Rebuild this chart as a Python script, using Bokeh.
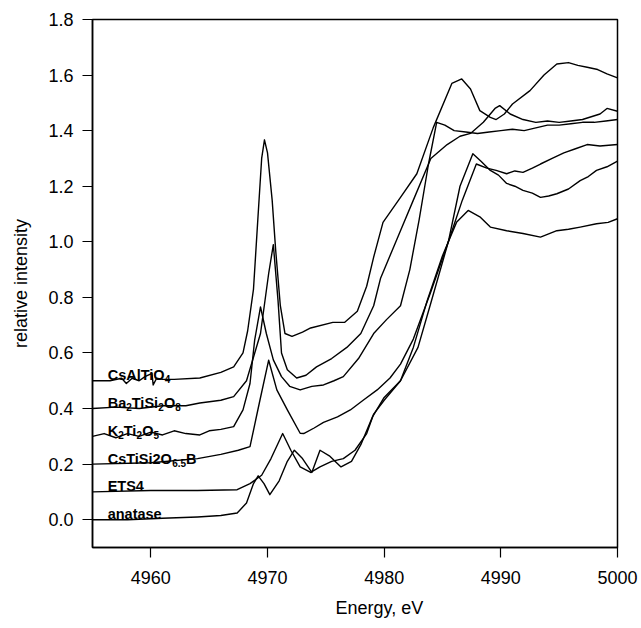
from bokeh.plotting import figure
from bokeh.models import Range1d, FixedTicker, Title, ColumnDataSource
from bokeh.core.properties import value
from bokeh.embed import file_html
from bokeh.resources import INLINE

# ---------------- data ----------------
x_ticks = [4960, 4970, 4980, 4990, 5000]
y_ticks = [0.0, 0.2, 0.4, 0.6, 0.8, 1.0, 1.2, 1.4, 1.6, 1.8]

anatase_x = [4955, 4958, 4961, 4964, 4966, 4967.4, 4968.2, 4968.8, 4969.2, 4969.7, 4970.2, 4971.0, 4971.7,
             4972.3, 4973.0, 4973.8, 4974.5, 4975.3, 4976.3, 4977.2, 4978.0, 4979.0, 4980.0, 4981.4, 4982.5,
             4983.7, 4985.0, 4986.2, 4987.2, 4988.2, 4989.1, 4990.5, 4991.9, 4993.4, 4994.8, 4995.8, 4996.8,
             4998.2, 4999.2, 5000]
anatase_y = [0.0, 0.0, 0.005, 0.01, 0.015, 0.024, 0.06, 0.13, 0.158, 0.13, 0.09, 0.14, 0.21,
             0.25, 0.22, 0.17, 0.25, 0.23, 0.19, 0.21, 0.27, 0.37, 0.44, 0.50, 0.62,
             0.79, 0.95, 1.07, 1.113, 1.09, 1.053, 1.04, 1.03, 1.017, 1.04, 1.045, 1.053,
             1.065, 1.07, 1.083]

ets4_x = [4955, 4960, 4964, 4967.4, 4968.5, 4969.5, 4970.3, 4971.3, 4972.0, 4972.8, 4973.7, 4974.5, 4975.5,
          4976.5, 4977.5, 4978.5, 4979.1, 4980, 4981.4, 4982.9, 4984, 4985.5, 4986.5, 4987.6, 4988.3, 4989.1,
          4989.8, 4990.5, 4991.2, 4991.9, 4992.7, 4993.4, 4994.1, 4994.8, 4995.8, 4996.8, 4997.5, 4998.2,
          4999.1, 5000]
ets4_y = [0.10, 0.105, 0.105, 0.108, 0.13, 0.16, 0.22, 0.31, 0.25, 0.19, 0.17, 0.19, 0.21,
          0.22, 0.25, 0.31, 0.38, 0.43, 0.50, 0.62, 0.78, 1.00, 1.20, 1.317, 1.29, 1.257,
          1.24, 1.21, 1.20, 1.185, 1.175, 1.16, 1.165, 1.173, 1.19, 1.22, 1.235, 1.257,
          1.27, 1.29]

cstisi_x = [4955, 4960, 4964, 4966, 4967.5, 4968.5, 4969.3, 4970.1, 4970.8, 4971.7, 4972.8, 4973.1, 4974,
            4974.8, 4976, 4977.1, 4978.2, 4979.4, 4980.5, 4981.4, 4982.5, 4984, 4985.5, 4986.7, 4987.9,
            4988.8, 4989.6, 4990.5, 4991.2, 4991.9, 4992.7, 4993.4, 4994.4, 4995.4, 4996.4, 4997.4,
            4998.5, 5000]
cstisi_y = [0.20, 0.205, 0.22, 0.235, 0.25, 0.263, 0.42, 0.574, 0.467, 0.395, 0.311, 0.31, 0.33,
            0.35, 0.37, 0.395, 0.43, 0.467, 0.51, 0.56, 0.65, 0.82, 1.00, 1.15, 1.28,
            1.265, 1.257, 1.245, 1.255, 1.25, 1.265, 1.28, 1.30, 1.32, 1.335, 1.35,
            1.345, 1.35]

k2ti2o5_x = [4955, 4956, 4957, 4958, 4959, 4960, 4961, 4962, 4963, 4964.2, 4965, 4966, 4967.1, 4967.9, 4968.5,
             4968.9, 4969.4, 4969.9, 4970.5, 4971.2, 4971.9, 4972.8, 4973.8, 4974.8, 4975.7, 4976.5, 4977.8,
             4979.1, 4980.2, 4981.4, 4982.2, 4983.0, 4983.8, 4984.5, 4985.2, 4986, 4987, 4988, 4989,
             4990, 4991, 4992, 4993, 4994, 4995, 4996, 4997, 4998, 4999, 5000]
k2ti2o5_y = [0.30, 0.31, 0.295, 0.31, 0.30, 0.315, 0.305, 0.32, 0.31, 0.305, 0.32, 0.325, 0.335, 0.395, 0.49,
             0.646, 0.766, 0.67, 0.575, 0.515, 0.48, 0.467, 0.48, 0.485, 0.50, 0.515, 0.58,
             0.67, 0.72, 0.77, 0.90, 1.08, 1.28, 1.43, 1.42, 1.40, 1.395, 1.39, 1.395,
             1.40, 1.405, 1.40, 1.41, 1.42, 1.42, 1.425, 1.43, 1.43, 1.435, 1.44]

ba_x = [4955, 4957, 4959, 4961, 4963, 4964.2, 4966, 4967.1, 4968.2, 4969.4, 4970.1, 4970.5, 4970.9, 4971.2,
        4971.7, 4972.5, 4973.3, 4974.2, 4975.5, 4976.8, 4978, 4979.1, 4979.7, 4981.2, 4982.5, 4984,
        4985.4, 4986.5, 4987.4, 4988.5, 4989.5, 4989.9, 4990.8, 4991.9, 4993, 4994, 4995, 4996, 4997,
        4998.5, 4999.1, 5000]
ba_y = [0.40, 0.405, 0.40, 0.41, 0.41, 0.42, 0.43, 0.443, 0.50, 0.67, 0.886, 0.99, 0.79, 0.60,
        0.54, 0.51, 0.52, 0.55, 0.58, 0.62, 0.67, 0.77, 0.87, 1.02, 1.15, 1.30,
        1.35, 1.38, 1.39, 1.43, 1.48, 1.49, 1.46, 1.44, 1.43, 1.435, 1.43, 1.435, 1.44,
        1.46, 1.48, 1.47]

csal_x = [4955, 4956.5, 4957.5, 4957.9, 4958.4, 4959, 4959.5, 4960.1, 4960.2, 4960.5, 4961, 4962, 4964.2, 4966,
          4967.1, 4967.9, 4968.3, 4968.8, 4969.2, 4969.5, 4969.74, 4970.0, 4970.4, 4970.7, 4971.1, 4971.5,
          4972.1, 4973, 4973.7, 4975.6, 4976.6, 4977.7, 4978.5, 4979.1, 4979.9, 4981.4, 4982.8, 4984.2,
          4985.8, 4986.65, 4987.4, 4988.2, 4989.1, 4989.6, 4990.3, 4991, 4992.5, 4993.7, 4994.8, 4995.8,
          4996.6, 4997.4, 4998.3, 4999.1, 5000]
csal_y = [0.50, 0.50, 0.509, 0.49, 0.509, 0.50, 0.515, 0.527, 0.485, 0.509, 0.505, 0.505, 0.51, 0.53,
          0.55, 0.60, 0.68, 0.83, 1.10, 1.30, 1.367, 1.32, 1.15, 0.97, 0.77, 0.67,
          0.66, 0.675, 0.69, 0.71, 0.71, 0.75, 0.84, 0.945, 1.07, 1.16, 1.245, 1.41,
          1.57, 1.586, 1.55, 1.472, 1.448, 1.44, 1.46, 1.496, 1.544, 1.60, 1.64, 1.645,
          1.635, 1.628, 1.62, 1.604, 1.59]

# series labels: list of (text, is_subscript) runs, and the curve offset each label sits on
label_runs = [
    [("CsAlTiO", False), ("4", True)],
    [("Ba", False), ("2", True), ("TiSi", False), ("2", True), ("O", False), ("8", True)],
    [("K", False), ("2", True), ("Ti", False), ("2", True), ("O", False), ("5", True)],
    [("CsTiSi2O", False), ("6.5", True), ("B", False)],
    [("ETS4", False)],
    [("anatase", False)],
]
label_offsets = [0.5, 0.4, 0.3, 0.2, 0.1, 0.0]

# ---------------- figure ----------------
FONT = "Liberation Sans"
p = figure(width=641, height=628, output_backend="svg", toolbar_location=None,
           x_range=Range1d(4955, 5000), y_range=Range1d(-0.1, 1.8),
           min_border_left=92, min_border_right=24, min_border_top=19, min_border_bottom=81,
           background_fill_color="white", border_fill_color="white")
p.grid.visible = False
p.outline_line_color = "black"
p.outline_line_width = 1.5

for ax in (p.xaxis[0], p.yaxis[0]):
    ax.axis_line_width = 1.5
    ax.major_tick_line_width = 1.2
    ax.major_tick_out = 10
    ax.major_tick_in = 0
    ax.minor_tick_line_color = None
    ax.major_label_text_font = FONT
    ax.major_label_text_font_size = "18px"
    ax.major_label_text_color = "black"
    ax.axis_label_text_font = FONT
    ax.axis_label_text_font_size = "18px"
    ax.axis_label_text_font_style = "normal"
    ax.axis_label_text_color = "black"

p.xaxis.ticker = FixedTicker(ticks=x_ticks)
p.yaxis.ticker = FixedTicker(ticks=y_ticks)
p.yaxis.major_label_overrides = {t: f"{t:.1f}" for t in y_ticks}
p.yaxis.axis_label = "relative intensity"
p.xaxis.major_label_standoff = 13
p.yaxis.major_label_standoff = 9
p.yaxis.axis_label_standoff = 14

p.add_layout(Title(text="Energy, eV", align="left", offset=243, text_font=FONT,
                   text_font_size="18px", text_font_style="normal", text_color="black",
                   standoff=19), "below")

series = [(csal_x, csal_y), (ba_x, ba_y), (k2ti2o5_x, k2ti2o5_y),
          (cstisi_x, cstisi_y), (ets4_x, ets4_y), (anatase_x, anatase_y)]
for xs, ys in series:
    p.line(xs, ys, line_color="black", line_width=1.4, line_join="round")

# Arial/Liberation Sans Bold advance widths (per 1000 em) to lay out the sub-scripted runs
W = {"C": 722, "s": 556, "A": 722, "l": 278, "T": 611, "i": 278, "O": 778, "B": 722, "a": 556,
     "S": 667, "K": 722, "E": 667, "n": 611, "t": 333, "e": 556, ".": 278}
MAIN_PX, SUB_PX, SUB_DROP = 14.5, 10.0, 4.0
main = dict(x=[], y=[], text=[], dx=[])
sub = dict(x=[], y=[], text=[], dx=[])
for runs, off in zip(label_runs, label_offsets):
    dx = 0.0
    for txt, is_sub in runs:
        size = SUB_PX if is_sub else MAIN_PX
        tgt = sub if is_sub else main
        tgt["x"].append(4956.3)
        tgt["y"].append(off + 0.02)
        tgt["text"].append(txt)
        tgt["dx"].append(dx)
        dx += sum(W.get(ch, 556) for ch in txt) / 1000.0 * size

p.text(x="x", y="y", text="text", x_offset="dx", source=ColumnDataSource(main),
       text_font=value(FONT), text_font_style="bold", text_font_size=f"{MAIN_PX}px",
       text_color="black", text_baseline="alphabetic", text_align="left")
p.text(x="x", y="y", text="text", x_offset="dx", y_offset=SUB_DROP, source=ColumnDataSource(sub),
       text_font=value(FONT), text_font_style="bold", text_font_size=f"{SUB_PX}px",
       text_color="black", text_baseline="alphabetic", text_align="left")

open("out.html", "w").write(file_html(p, INLINE))
